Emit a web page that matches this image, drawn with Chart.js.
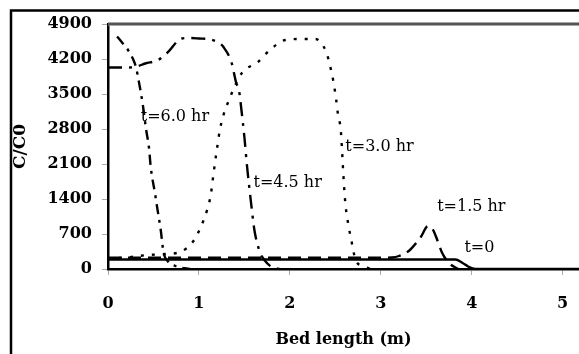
<!DOCTYPE html>
<html>
<head>
<meta charset="utf-8">
<script src="https://cdn.jsdelivr.net/npm/chart.js@4/dist/chart.umd.min.js"></script>
<style>
  body { margin: 0; background: #fff; }
  #wrap { width: 579px; height: 354px; }
</style>
</head>
<body>
<div id="wrap"><canvas id="chart" width="579" height="354"></canvas></div>
<script>
// Concentration profiles along the bed
const xTicks = [0, 1, 2, 3, 4, 5];
const yTicks = [0, 700, 1400, 2100, 2800, 3500, 4200, 4900];

const t0X = [0, 3.82, 3.9, 3.96, 4.04, 5.2];
const t0Y = [190, 190, 120, 50, 0, 0];

const t15X = [0, 1.0, 2.0, 3.0, 3.12, 3.2, 3.32, 3.44, 3.52, 3.57, 3.63, 3.67, 3.75, 3.85];
const t15Y = [225, 225, 225, 225, 230, 260, 380, 640, 860, 800, 540, 340, 120, 0];

const t30X = [0, 0.2, 0.44, 0.63, 0.79, 0.94, 1.02, 1.09, 1.13, 1.16, 1.2, 1.23, 1.27, 1.34, 1.4, 1.48,
              1.65, 1.78, 1.95, 2.11, 2.28, 2.4, 2.44, 2.48, 2.51, 2.53, 2.56, 2.59, 2.61, 2.65, 2.68, 2.72, 2.8, 2.9];
const t30Y = [210, 230, 280, 300, 340, 560, 840, 1180, 1480, 1900, 2420, 2780, 3080, 3420, 3680, 3940,
              4140, 4380, 4580, 4600, 4600, 4340, 4080, 3740, 3380, 3080, 2780, 1840, 1320, 820, 540, 200, 60, 0];

const t45X = [0, 0.22, 0.3, 0.41, 0.55, 0.65, 0.81, 0.9, 1.0, 1.13, 1.22, 1.27, 1.36, 1.41, 1.44, 1.47,
              1.5, 1.53, 1.58, 1.61, 1.67, 1.72, 1.8, 1.9];
const t45Y = [4030, 4030, 4040, 4110, 4180, 4320, 4610, 4620, 4610, 4590, 4520, 4440, 4120, 3720, 3580, 3140,
              2640, 2040, 1220, 780, 340, 180, 40, 0];

const t60X = [0.1, 0.15, 0.22, 0.28, 0.31, 0.34, 0.38, 0.42, 0.45, 0.47, 0.52, 0.54, 0.58, 0.61, 0.66, 0.74, 0.9];
const t60Y = [4650, 4540, 4380, 4180, 4020, 3740, 3320, 2780, 2440, 2040, 1480, 1240, 780, 340, 150, 60, 0];

// curve labels, placed in data units
const labelText = ['t=6.0 hr', 't=4.5 hr', 't=3.0 hr', 't=1.5 hr', 't=0'];
const labelX = [0.36, 1.6, 2.61, 3.62, 3.92];
const labelY = [3040, 1720, 2440, 1240, 420];

function pts(xs, ys) {
    return xs.map((x, i) => ({ x: x, y: ys[i] }));
}

function series(label, xs, ys, dash) {
    return {
        label: label,
        data: pts(xs, ys),
        borderColor: '#000',
        borderWidth: 2.4,
        borderDash: dash,
        pointRadius: 0,
        fill: false,
        cubicInterpolationMode: 'monotone'
    };
}

const serif = 'DejaVu Serif, Liberation Serif, serif';

const framePlugin = {
    id: 'frame',
    afterDraw(chart) {
        const ctx = chart.ctx;
        const area = chart.chartArea;
        const xs = chart.scales.x, ys = chart.scales.y;
        ctx.save();
        // outer frame (only left and top fall inside the picture)
        ctx.strokeStyle = '#000';
        ctx.lineWidth = 2.5;
        ctx.strokeRect(11, 10.5, 800, 600);
        // top edge of the plot
        ctx.strokeStyle = '#888';
        ctx.lineWidth = 3.5;
        ctx.beginPath();
        ctx.moveTo(area.left, area.top);
        ctx.lineTo(area.right, area.top);
        ctx.stroke();
        ctx.strokeStyle = '#222';
        ctx.lineWidth = 1.2;
        ctx.beginPath();
        ctx.moveTo(area.left, area.top);
        ctx.lineTo(area.right, area.top);
        ctx.stroke();
        // curve labels
        ctx.fillStyle = '#000';
        ctx.font = '16px ' + serif;
        ctx.textAlign = 'left';
        ctx.textBaseline = 'middle';
        labelText.forEach((txt, i) => {
            ctx.fillText(txt, xs.getPixelForValue(labelX[i]), ys.getPixelForValue(labelY[i]));
        });
        ctx.restore();
    }
};

new Chart(document.getElementById('chart'), {
    type: 'line',
    data: {
        datasets: [
            series('t=0', t0X, t0Y, []),
            series('t=1.5 hr', t15X, t15Y, [13, 7]),
            series('t=3.0 hr', t30X, t30Y, [3, 8]),
            series('t=4.5 hr', t45X, t45Y, [14, 7, 3, 7]),
            series('t=6.0 hr', t60X, t60Y, [10, 6, 3, 6])
        ]
    },
    options: {
        responsive: false,
        animation: false,
        layout: { padding: { top: 24, left: 0, right: 0, bottom: 0 } },
        plugins: {
            legend: { display: false },
            tooltip: { enabled: false }
        },
        scales: {
            x: {
                type: 'linear',
                min: 0,
                max: 5.18,
                afterFit: (s) => { s.height = 85; s.paddingLeft = 0; s.paddingRight = 0; },
                afterBuildTicks: (s) => { s.ticks = xTicks.map(v => ({ value: v })); },
                ticks: {
                    includeBounds: false,
                    color: '#000',
                    padding: 19,
                    font: { family: serif, size: 16, weight: 'bold' },
                    callback: (v) => String(v)
                },
                grid: { drawOnChartArea: false, tickLength: 6, color: '#aaa' },
                border: { color: '#000', width: 2.5 },
                title: {
                    display: true,
                    text: 'Bed length (m)',
                    color: '#000',
                    font: { family: serif, size: 16, weight: 'bold' },
                    padding: { top: 0, bottom: 5 }
                }
            },
            y: {
                min: 0,
                max: 4900,
                afterFit: (s) => { s.width = 108; },
                afterBuildTicks: (s) => { s.ticks = yTicks.map(v => ({ value: v })); },
                ticks: {
                    color: '#000',
                    padding: 10,
                    font: { family: serif, size: 16, weight: 'bold' },
                    callback: (v) => String(v)
                },
                grid: { drawOnChartArea: false, tickLength: 6, color: '#aaa' },
                border: { color: '#000', width: 2.5 },
                title: {
                    display: true,
                    text: 'C/C0',
                    color: '#000',
                    font: { family: serif, size: 17, weight: 'bold' },
                    padding: { top: 10, bottom: 0 }
                }
            }
        }
    },
    plugins: [framePlugin]
});
</script>
</body>
</html>
